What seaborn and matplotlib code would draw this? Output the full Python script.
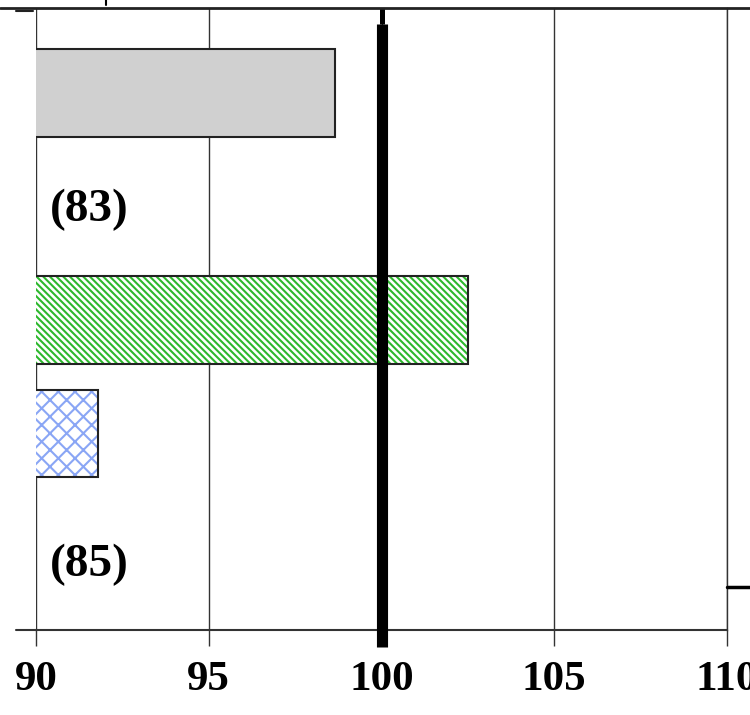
import pandas as pd
import numpy as np
import seaborn as sns
import matplotlib.pyplot as plt
from matplotlib.lines import Line2D

# slots on the y axis (some slots only carry a label)
slots = ['g83_a', 'lbl83', 'g85_a', 'g85_b', 'lbl85']
bar_slots = ['g83_a', 'g85_a', 'g85_b']
bar_values = [98.65, 102.5, 91.8]
bar_faces = ['#D0D0D0', 'white', 'white']
bar_hatches = ['', '\\\\\\\\\\', 'xx']
hatch_colors = ['#404040', '#2DB82D', '#8AA6F5']
group_labels = ['(83)', '(85)']
label_slots = [1.03, 4.16]
x_ticks = [90, 95, 100, 105, 110]
ref_value = 100

df = pd.DataFrame({'slot': bar_slots, 'value': bar_values})

sns.set_style('white')
plt.rcParams['font.family'] = ['Liberation Serif', 'DejaVu Serif']
plt.rcParams['text.color'] = 'black'
plt.rcParams['xtick.color'] = 'black'
plt.rcParams['hatch.linewidth'] = 1.5

W, H = 750, 715
fig = plt.figure(figsize=(W / 100, H / 100), dpi=100)
ax = fig.add_axes([36 / W, 1 - 630 / H, 691 / W, 622 / H])

# filled / hatched bars
sns.barplot(data=df, x='value', y='slot', order=slots, orient='h', width=0.77,
            color='white', ax=ax, errorbar=None, zorder=2)
bars = sorted([p for p in ax.patches if p.get_width() > 0], key=lambda p: p.get_y())
for p, fc, hc, ht in zip(bars, bar_faces, hatch_colors, bar_hatches):
    p.set_facecolor(fc)
    p.set_hatch(ht)
    p.set_edgecolor(hc)
    p.set_linewidth(0)

# black outlines
sns.barplot(data=df, x='value', y='slot', order=slots, orient='h', width=0.77,
            color='#222222', fill=False, linewidth=1.5, ax=ax, errorbar=None, zorder=3)

for txt, ys in zip(group_labels, label_slots):
    ax.text(90.4, ys, txt, fontsize=34, fontweight='bold', va='center', ha='left',
            color='black')

ax.set_xlim(90, 110)
ax.set_ylim(4.73, -0.75)
ax.set_xticks(x_ticks)
ax.set_xticklabels([str(t) for t in x_ticks], fontsize=31, fontweight='bold')
ax.set_yticks([])
ax.set_xlabel('')
ax.set_ylabel('')
ax.grid(axis='x', color='#333333', linewidth=1, zorder=1)
ax.grid(axis='y', visible=False)
ax.set_axisbelow(True)
for s in ['left', 'top']:
    ax.spines[s].set_visible(False)
ax.spines['right'].set_color('#333333')
ax.spines['right'].set_linewidth(1)
ax.spines['bottom'].set_color('#333333')
ax.spines['bottom'].set_linewidth(1.5)
ax.tick_params(axis='x', bottom=True, length=11.5, width=1, color='#333333',
               direction='out', pad=11)

# reference line at 100
ax.axvline(ref_value, ymin=-0.027, ymax=0.974, color='black', lw=8, clip_on=False,
           zorder=5, solid_capstyle='butt')
ax.axvline(ref_value, ymin=0.974, ymax=1.0, color='black', lw=3.6, clip_on=False,
           zorder=5, solid_capstyle='butt')

# frame pieces outside the plot area
fy = lambda y: 1 - y / H
fig.add_artist(Line2D([0, 1], [fy(8), fy(8)], color='#222222', lw=2))
fig.add_artist(Line2D([16 / W, 36 / W], [fy(630), fy(630)], color='#333333', lw=1.5))
fig.add_artist(Line2D([16 / W, 33 / W], [fy(11), fy(11)], color='#222222', lw=1.5))
fig.add_artist(Line2D([727 / W, 1], [fy(587), fy(587)], color='black', lw=2.5))
fig.add_artist(Line2D([106 / W, 106 / W], [1, fy(5)], color='black', lw=1.5))

fig.savefig('out.png', dpi=100)
